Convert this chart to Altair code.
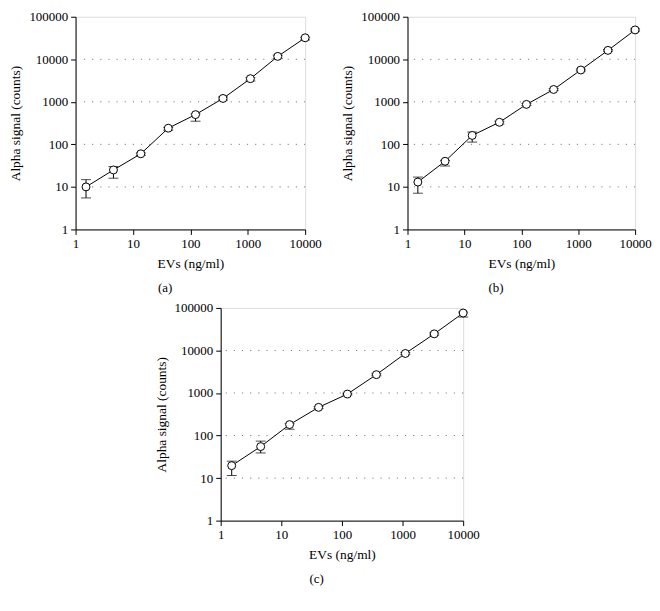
import altair as alt
import pandas as pd

# EV concentrations (3-fold dilutions), ng/ml
x_vals = [1.52, 4.57, 13.7, 41.2, 123, 370, 1111, 3333, 10000]

# Panel (a)
a_y = [10, 25, 60, 240, 500, 1200, 3500, 11700, 32000]
a_lo = [5.5, 16, 55, 215, 350, 1100, 3100, 10500, 28500]
a_hi = [14.8, 30, 63, 250, 520, 1300, 3700, 12500, 33000]

# Panel (b)
b_y = [13, 40, 162, 330, 870, 1950, 5600, 16200, 49000]
b_lo = [7.1, 31, 113, 300, 820, 1850, 5300, 15400, 46000]
b_hi = [17, 42, 195, 350, 920, 2050, 5900, 17000, 52000]

# Panel (c)
c_y = [19.6, 55, 181, 460, 945, 2700, 8500, 24600, 76000]
c_lo = [11.5, 39, 141, 430, 900, 2550, 8000, 23000, 61000]
c_hi = [25, 74, 190, 480, 990, 2850, 9000, 26000, 80000]

grid_vals = [10, 100, 1000, 10000]
x_ticks = [1, 10, 100, 1000, 10000]
y_ticks = [1, 10, 100, 1000, 10000, 100000]

FONT = "Liberation Serif"


def xscale():
    return alt.Scale(type="log", domain=[1, 10000], nice=False)


def yscale():
    return alt.Scale(type="log", domain=[1, 100000], nice=False)


def xaxis():
    return alt.Axis(
        title="EVs (ng/ml)", values=x_ticks, format="d", grid=False,
        labelFont=FONT, titleFont=FONT, labelFontSize=13, titleFontSize=13.5,
        titleFontWeight="normal", labelColor="black", titleColor="black",
        domainColor="black", tickColor="black", tickSize=5, labelPadding=3,
        titlePadding=6, labelOverlap=False, labelFlush=False, labelBound=False,
    )


def yaxis():
    return alt.Axis(
        title="Alpha signal (counts)", values=y_ticks, format="d", grid=False,
        labelFont=FONT, titleFont=FONT, labelFontSize=13, titleFontSize=13.5,
        titleFontWeight="normal", labelColor="black", titleColor="black",
        domainColor="black", tickColor="black", tickSize=5, labelPadding=3,
        titlePadding=6, labelOverlap=False, labelFlush=False, labelBound=False,
    )


def panel(y, lo, hi, label, width, height):
    df = pd.DataFrame({"x": x_vals, "y": y, "lo": lo, "hi": hi})
    gdf = pd.DataFrame({"g": grid_vals})
    X = alt.X("x:Q", scale=xscale(), axis=xaxis())

    grid = alt.Chart(gdf).mark_rule(color="#808080", strokeDash=[1.2, 7], strokeWidth=1).encode(
        y=alt.Y("g:Q", scale=yscale(), axis=yaxis())
    )
    base = alt.Chart(df)
    rule = base.mark_rule(color="black", strokeWidth=1).encode(
        x=X, y=alt.Y("lo:Q", scale=yscale(), axis=yaxis()), y2="hi:Q"
    )
    cap_lo = base.mark_tick(color="black", orient="horizontal", size=10, thickness=1).encode(
        x=X, y=alt.Y("lo:Q", scale=yscale(), axis=yaxis())
    )
    cap_hi = base.mark_tick(color="black", orient="horizontal", size=10, thickness=1).encode(
        x=X, y=alt.Y("hi:Q", scale=yscale(), axis=yaxis())
    )
    line = base.mark_line(color="black", strokeWidth=1).encode(
        x=X, y=alt.Y("y:Q", scale=yscale(), axis=yaxis())
    )
    pts = base.mark_point(shape="circle", filled=True, fill="white", stroke="black",
                          strokeWidth=1, size=64, opacity=1).encode(
        x=X, y=alt.Y("y:Q", scale=yscale(), axis=yaxis())
    )
    return alt.layer(grid, rule, cap_lo, cap_hi, line, pts).properties(
        width=width, height=height,
        title=alt.TitleParams(text=label, orient="bottom", anchor="middle", frame="bounds",
                              font=FONT, fontSize=13, fontWeight="normal", color="black",
                              offset=12),
    )


pa = panel(a_y, a_lo, a_hi, "(a)", 231, 214)
pb = panel(b_y, b_lo, b_hi, "(b)", 229, 214)
pc = panel(c_y, c_lo, c_hi, "(c)", 244, 214)

spacer = alt.Chart(pd.DataFrame({"s": [1]})).mark_point(opacity=0).encode(
    x=alt.X("s:Q", axis=None), y=alt.Y("s:Q", axis=None)
).properties(width=75, height=10, view=alt.ViewBackground(stroke=None))

top = alt.hconcat(pa, pb, spacing=18)
bottom = alt.hconcat(spacer, pc, spacing=0)

chart = alt.vconcat(top, bottom, spacing=6).properties(
    padding={"left": 0, "top": 0, "right": 0, "bottom": 0}
).configure_view(stroke="black", strokeWidth=1).configure(background="white")

chart.save("out.html", embed_options={"renderer": "svg", "actions": False})
